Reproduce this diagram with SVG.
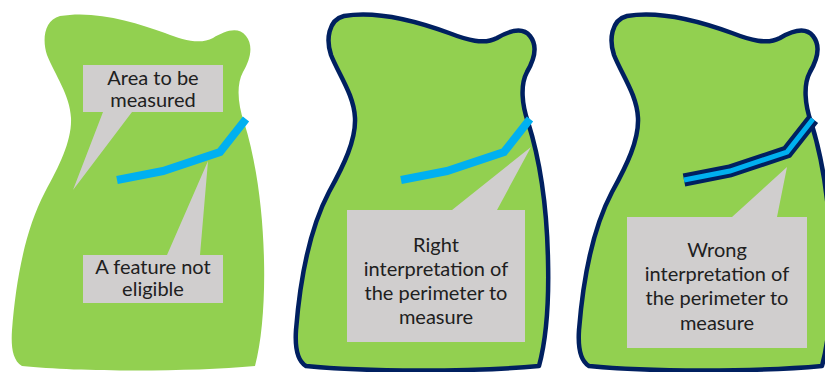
<svg xmlns="http://www.w3.org/2000/svg" xmlns:xlink="http://www.w3.org/1999/xlink" width="825" height="372" viewBox="0 0 825 372">
<style>
.land{fill:#92d050}
.outlined{stroke:#002060;stroke-width:4.5;stroke-linejoin:round}
.callout{fill:#d0cece}
.feature{fill:none;stroke:#00b0f0;stroke-width:8;stroke-linejoin:miter;stroke-linecap:butt}
.feature-outer{fill:none;stroke:#002060;stroke-width:13;stroke-linejoin:miter;stroke-linecap:butt}
.feature-inner{fill:none;stroke:#00b0f0;stroke-width:5;stroke-linejoin:miter;stroke-linecap:butt}
text{font-family:Lato,"Liberation Sans",sans-serif;font-size:20px;fill:#202020;text-anchor:middle}
</style>
<defs>
<path id="blob" d="M 60,16 C 95,10 135,22 165,33 C 183,40 200,45 213,38 C 225,31 238,26 246,36 C 254,46 250,60 243,72 C 236,85 238,105 244,122 C 256,160 263,210 264,260 C 265,300 262,340 255,366 C 190,372 80,372 22,366 C 12,360 11,345 12,330 C 16,280 25,230 45,192 C 60,165 72,140 71,118 C 70,95 55,75 47,55 C 42,40 44,20 60,16 Z"/>
<polyline id="river" points="117,180 163,171 220,152 246,119"/>
</defs>

<g id="panel1">
<use xlink:href="#blob" class="land"/>
<use xlink:href="#river" class="feature"/>
</g>
<g id="callout-area">
<polygon class="callout" points="83,65 223,65 223,112 132,112 73,190 103,112 83,112"/>
<text x="153" y="85">Area to be</text>
<text x="153" y="107">measured</text>
</g>
<g id="callout-feature">
<polygon class="callout" points="83,255 167,255 208,161 200,255 223,255 223,303 83,303"/>
<text x="153" y="274">A feature not</text>
<text x="153" y="296">eligible</text>
</g>

<g id="panel2" transform="translate(284,0)">
<use xlink:href="#blob" class="land outlined"/>
<use xlink:href="#river" class="feature"/>
</g>
<g id="callout-right">
<polygon class="callout" points="347,210 452,210 531,147 497,210 525,210 525,342 347,342"/>
<text x="436" y="252">Right</text>
<text x="436" y="276">interpretation of</text>
<text x="436" y="300">the perimeter to</text>
<text x="436" y="324">measure</text>
</g>

<g id="panel3" transform="translate(567,0)">
<use xlink:href="#blob" class="land outlined"/>
<use xlink:href="#river" class="feature-outer"/>
<use xlink:href="#river" class="feature-inner"/>
</g>
<g id="callout-wrong">
<polygon class="callout" points="627,217 732,217 787,167 777,217 807,217 807,348 627,348"/>
<text x="717" y="257">Wrong</text>
<text x="717" y="281">interpretation of</text>
<text x="717" y="305">the perimeter to</text>
<text x="717" y="330">measure</text>
</g>
</svg>
